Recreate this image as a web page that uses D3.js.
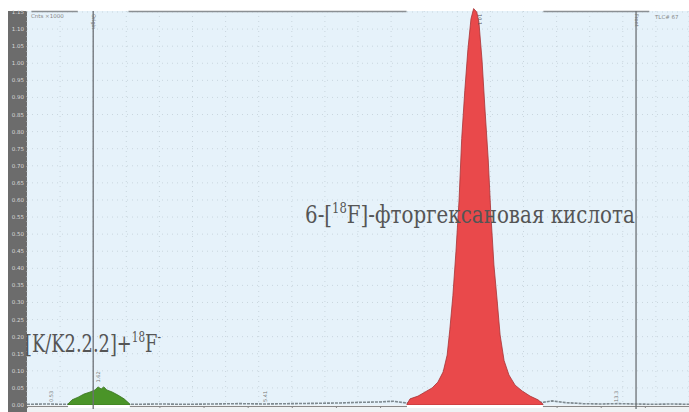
<!DOCTYPE html>
<html>
<head>
<meta charset="utf-8">
<script src="https://cdn.jsdelivr.net/npm/d3@7.9.0/dist/d3.min.js"></script>
<style>
  body { margin: 0; background: #fff; }
  svg { display: block; }
</style>
</head>
<body>
<svg id="chart" width="689" height="412"></svg>
<script>
// chromatogram data: time (min) and counts (x1000)
const mainPeakT = [8.61, 8.68, 8.86, 9.02, 9.18, 9.31, 9.43, 9.52, 9.58, 9.65, 9.72, 9.79, 9.85, 9.92, 9.99, 10.06, 10.12, 10.19, 10.24, 10.31, 10.38, 10.45, 10.51, 10.58, 10.65, 10.72, 10.81, 10.92, 11.06, 11.22, 11.40, 11.58, 11.69];
const mainPeakV = [0.003, 0.018, 0.026, 0.038, 0.05, 0.067, 0.097, 0.146, 0.22, 0.32, 0.45, 0.60, 0.78, 0.92, 1.04, 1.13, 1.16, 1.15, 1.12, 1.01, 0.86, 0.72, 0.56, 0.41, 0.31, 0.205, 0.13, 0.088, 0.058, 0.041, 0.026, 0.015, 0.003];

const fluorideT = [0.93, 1.02, 1.16, 1.29, 1.43, 1.54, 1.61, 1.68, 1.74, 1.81, 1.93, 2.06, 2.20, 2.33];
const fluorideV = [0.003, 0.015, 0.023, 0.032, 0.038, 0.044, 0.053, 0.047, 0.053, 0.044, 0.038, 0.029, 0.018, 0.003];

const baseT = [0, 0.4, 0.9, 2.4, 3.0, 3.6, 4.2, 4.8, 5.4, 6.0, 6.6, 7.1, 7.6, 8.0, 8.3, 8.6, 11.7, 11.9, 12.2, 12.6, 13.0, 13.4, 13.8, 14.2, 14.6, 15.0];
const baseV = [0.002, 0.003, 0.002, 0.002, 0.003, 0.002, 0.003, 0.004, 0.003, 0.004, 0.005, 0.006, 0.008, 0.009, 0.011, 0.006, 0.008, 0.012, 0.007, 0.004, 0.003, 0.004, 0.003, 0.002, 0.003, 0.002];

const yTicks = d3.range(0, 24).map(i => +(i * 0.05).toFixed(2));
const markers = [1.5, 13.8];
const smallMarks = [{ t: 0.55, label: '0.53' }, { t: 5.4, label: '5.41' }, { t: 13.35, label: '13.3' }];

const svg = d3.select('#chart');
const padLeft = 27, padRight = 689, padTop = 11, padBottom = 405;

const x = d3.scaleLinear().domain([0, 15]).range([padLeft, padRight]);
const y = d3.scaleLinear().domain([0, 1.15]).range([padBottom, 12]);

// plot background
svg.append('rect').attr('x', padLeft).attr('y', padTop).attr('width', padRight - padLeft).attr('height', padBottom - padTop)
  .attr('fill', '#e6f2fa');
// axis strip at the bottom
svg.append('rect').attr('x', padLeft).attr('y', padBottom).attr('width', padRight - padLeft).attr('height', 412 - padBottom)
  .attr('fill', '#eef2f4');
// dark y axis strip
svg.append('rect').attr('x', 8).attr('y', padTop).attr('width', padLeft - 8).attr('height', 412 - padTop)
  .attr('fill', '#6c6c6c');

// faint dotted grid
const grid = svg.append('g').attr('stroke', '#c9d6de').attr('stroke-width', 1).attr('stroke-dasharray', '1,4');
grid.selectAll('line.h').data(yTicks.slice(1)).join('line').attr('class', 'h')
  .attr('x1', padLeft).attr('x2', padRight).attr('y1', d => y(d)).attr('y2', d => y(d));
grid.selectAll('line.v').data(d3.range(0, 15.1, 0.75)).join('line').attr('class', 'v')
  .attr('x1', d => x(d)).attr('x2', d => x(d)).attr('y1', padTop).attr('y2', padBottom);

// y tick labels
svg.append('g').selectAll('text').data(yTicks).join('text')
  .attr('x', 24).attr('y', d => y(d) + 2)
  .attr('text-anchor', 'end')
  .attr('font-family', 'DejaVu Sans').attr('font-size', 5.5)
  .attr('fill', '#d8d8d8')
  .text(d => d.toFixed(2));

// top border, interrupted over integrated regions
const topSegs = [[0.1, 1.15], [2.3, 8.6], [11.7, 14.1]];
svg.append('g').selectAll('line').data(topSegs).join('line')
  .attr('x1', d => x(d[0])).attr('x2', d => x(d[1])).attr('y1', padTop + 0.5).attr('y2', padTop + 0.5)
  .attr('stroke', '#8a8f93').attr('stroke-width', 1.5);

// bottom axis ticks
svg.append('g').attr('transform', `translate(0,${padBottom + 1})`)
  .call(d3.axisBottom(x).ticks(15).tickSize(2).tickFormat(''))
  .call(g => g.select('.domain').attr('stroke', '#888'))
  .call(g => g.selectAll('.tick line').attr('stroke', '#888'));

// baseline noise
const line = d3.line().x(d => x(d[0])).y(d => y(d[1]));
svg.append('path').datum(d3.zip(baseT, baseV))
  .attr('d', line).attr('fill', 'none').attr('stroke', '#7f8a90').attr('stroke-width', 1.6)
  .attr('stroke-dasharray', '3,1');

// peaks
const area = d3.area().x(d => x(d[0])).y0(y(0)).y1(d => y(d[1]));
svg.append('path').datum(d3.zip(fluorideT, fluorideV))
  .attr('d', area).attr('fill', '#4a9428').attr('stroke', '#3a7420').attr('stroke-width', 0.8);
svg.append('path').datum(d3.zip(mainPeakT, mainPeakV))
  .attr('d', area).attr('fill', '#e9494b').attr('stroke', '#a83436').attr('stroke-width', 0.8);

// light band under integrated peaks
svg.append('g').selectAll('rect').data([[0.93, 2.33], [8.61, 11.69]]).join('rect')
  .attr('x', d => x(d[0])).attr('y', padBottom).attr('width', d => x(d[1]) - x(d[0])).attr('height', 3)
  .attr('fill', '#ffffff');

// origin / front markers
svg.append('g').selectAll('line').data(markers).join('line')
  .attr('x1', d => x(d)).attr('x2', d => x(d)).attr('y1', padTop).attr('y2', padBottom + 4)
  .attr('stroke', '#6d7175').attr('stroke-width', 1.3);
svg.append('g').selectAll('text').data([{ t: 1.5, s: 'Origin' }, { t: 13.8, s: 'Front' }]).join('text')
  .attr('transform', d => `translate(${x(d.t) - 1},${padTop + 3}) rotate(90)`)
  .attr('font-family', 'DejaVu Sans').attr('font-size', 5).attr('fill', '#777')
  .text(d => d.s);

// small rotated labels near the baseline
svg.append('g').selectAll('text').data(smallMarks).join('text')
  .attr('transform', d => `translate(${x(d.t) + 2},${padBottom - 3}) rotate(-90)`)
  .attr('font-family', 'DejaVu Sans').attr('font-size', 5).attr('fill', '#777')
  .text(d => d.label);
svg.append('text').attr('transform', `translate(${x(1.62) + 2},${y(0.06) - 2}) rotate(-90)`)
  .attr('font-family', 'DejaVu Sans').attr('font-size', 5).attr('fill', '#777').text('1.62');
svg.append('text').attr('transform', `translate(${x(10.14) + 3},${padTop + 3}) rotate(90)`)
  .attr('font-family', 'DejaVu Sans').attr('font-size', 5).attr('fill', '#555').text('10.1');

// header texts
svg.append('text').attr('x', 31).attr('y', 18).attr('font-family', 'DejaVu Sans').attr('font-size', 5.5)
  .attr('fill', '#888').text('Cnts ×1000');
svg.append('text').attr('x', 655).attr('y', 19).attr('font-family', 'DejaVu Sans').attr('font-size', 5.5)
  .attr('fill', '#888').text('TLC# 67');

// peak annotations, squeezed horizontally to the width seen in the picture
const ann = svg.append('g')
  .attr('font-family', 'DejaVu Serif, Liberation Serif, serif')
  .attr('fill', '#555').attr('font-size', 24);

function annotate(px, py, width, parts) {
  const g = ann.append('g');
  const t = g.append('text');
  parts.forEach(p => {
    const s = t.append('tspan').text(p.s);
    if (p.sup) s.attr('font-size', 14).attr('dy', -10);
    else if (p.after) s.attr('dy', 10);
  });
  const w = t.node().getComputedTextLength();
  g.attr('transform', `translate(${px},${py}) scale(${width / w},1)`);
}

annotate(305, 223, 330, [
  { s: '6-[' }, { s: '18', sup: true }, { s: 'F]-фторгексановая кислота', after: true }
]);
annotate(25, 352, 136, [
  { s: '[K/K2.2.2]+' }, { s: '18', sup: true }, { s: 'F', after: true }, { s: '-', sup: true }
]);
</script>
</body>
</html>
